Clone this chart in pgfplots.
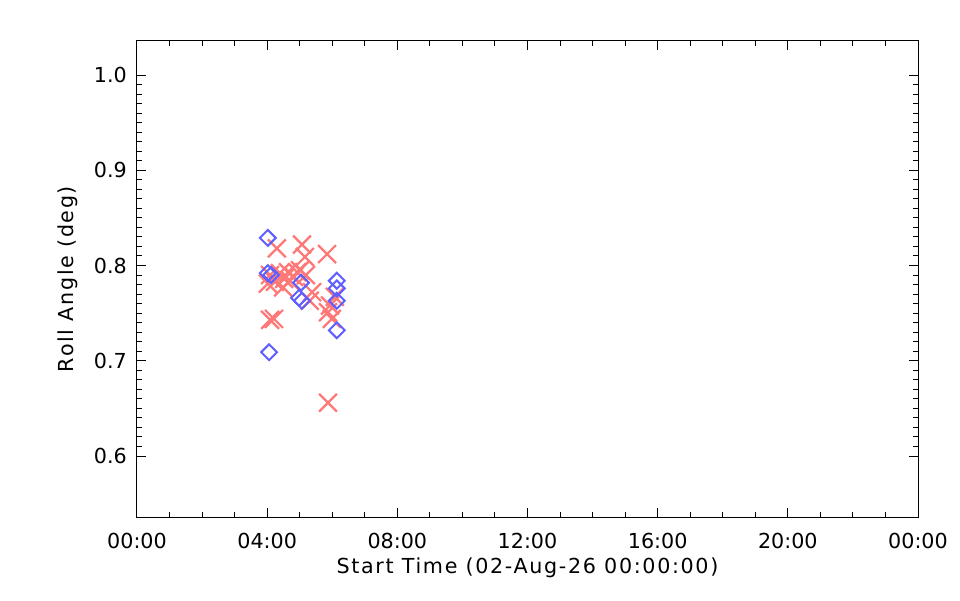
\documentclass[border=0pt]{standalone}
\usepackage{fontspec}
\setmainfont{DejaVu Sans}
\newfontfamily\labfont[LetterSpace=8]{DejaVu Sans}
\usepackage{pgfplots}
\pgfplotsset{compat=1.18}
\definecolor{xred}{RGB}{255,120,120}
\definecolor{dblue}{RGB}{95,95,255}
\begin{document}
\begin{tikzpicture}
\path[use as bounding box] (-102.75pt,-62.25pt) rectangle (617.25pt,387.75pt);
\begin{axis}[
  at={(0,0)}, anchor=south west,
  scale only axis, width=585.75pt, height=357pt,
  xmin=0, xmax=24, ymin=0.536, ymax=1.0357,
  xtick={0,4,8,12,16,20,24},
  xticklabels={00:00,04:00,08:00,12:00,16:00,20:00,00:00},
  minor xtick={1,2,3,5,6,7,9,10,11,13,14,15,17,18,19,21,22,23},
  ytick={0.6,0.7,0.8,0.9,1.0},
  minor y tick num=9,
  yticklabel={\pgfmathprintnumber[fixed,fixed zerofill,precision=1]{\tick}},
  /pgf/number format/assume math mode=true,
  tick align=inside,
  major tick length=6.75pt, minor tick length=3.5pt,
  every tick/.style={black, line width=0.75pt},
  axis line style={black, line width=0.75pt},
  font=\fontsize{15.5}{18}\selectfont,
  xticklabel style={inner sep=0pt, anchor=north, yshift=-12pt},
  yticklabel style={inner sep=0pt, anchor=east, xshift=-7.5pt},
  xlabel={\labfont Start Time (02-Aug-26 00:00:00)},
  ylabel={\labfont Roll Angle (deg)},
  xlabel style={at={(axis description cs:0.5,0)}, anchor=center, yshift=-38pt},
  ylabel style={at={(axis description cs:-0.0884,0.5)}, anchor=center},
  clip=false,
]
\addplot[only marks, mark=x, mark size=9.5pt, color=xred, line width=1.7pt] coordinates {
(4.30,0.818) (5.07,0.822) (5.16,0.809) (5.84,0.812)
(4.09,0.790) (4.24,0.783) (4.39,0.792) (4.52,0.786) (4.64,0.793)
(4.70,0.784) (4.82,0.788) (4.92,0.793) (4.49,0.777) (4.02,0.781)
(5.01,0.795) (5.19,0.790) (5.31,0.763) (5.38,0.772)
(4.09,0.743) (4.21,0.744)
(5.87,0.751) (5.99,0.744) (5.93,0.758) (6.08,0.767)
(5.87,0.656)
};
\addplot[only marks, mark=square, mark size=4.2pt, color=dblue, line width=1.5pt,
  mark options={rotate=45}] coordinates {
(4.02,0.829) (4.02,0.792) (4.12,0.790) (5.04,0.782) (4.98,0.766) (5.07,0.763)
(6.14,0.784) (6.14,0.776) (6.14,0.763) (6.14,0.732) (4.06,0.709)
};
\end{axis}
\end{tikzpicture}
\end{document}
